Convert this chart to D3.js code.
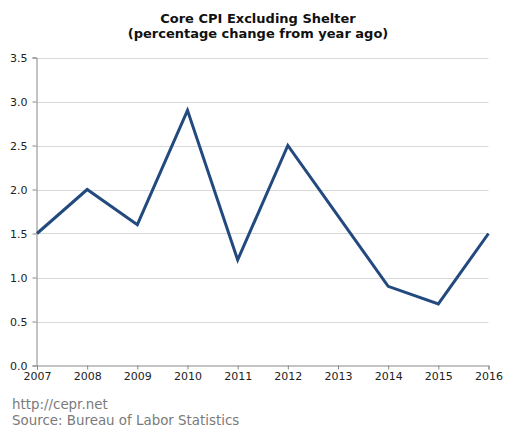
<!DOCTYPE html>
<html><head><meta charset="utf-8">
<script src="https://cdn.jsdelivr.net/npm/d3@7"></script>
<style>body{margin:0;background:#fff}svg{display:block}</style>
</head><body>
<svg id="c" width="517" height="437"></svg>
<script>
const years = [2007,2008,2009,2010,2011,2012,2013,2014,2015,2016];
const values = [1.5,2.0,1.6,2.9,1.2,2.5,1.7,0.9,0.7,1.5];
const yTicks = [0,0.5,1.0,1.5,2.0,2.5,3.0,3.5];
const titleLines = ["Core CPI Excluding Shelter","(percentage change from year ago)"];
const sourceLines = ["http://cepr.net","Source: Bureau of Labor Statistics"];

const svg = d3.select("#c");
const font = "Verdana, 'DejaVu Sans', sans-serif";
const x = d3.scaleLinear().domain([2007,2016]).range([37,488.5]);
const y = d3.scaleLinear().domain([0,3.5]).range([365.5,57.5]);

svg.selectAll("line.grid").data(yTicks.filter(d=>d>0)).join("line")
  .attr("x1",37).attr("x2",488.5).attr("y1",d=>Math.round(y(d))+0.5).attr("y2",d=>Math.round(y(d))+0.5)
  .attr("stroke","#d9d9d9").attr("stroke-width",1);

const ya = svg.append("g").attr("transform","translate(36.5,0)")
  .call(d3.axisLeft(y).tickValues(yTicks).tickFormat(d3.format(".1f")).tickSize(4).tickPadding(5));
const xa = svg.append("g").attr("transform","translate(0,365.5)")
  .call(d3.axisBottom(x).tickValues(years).tickFormat(d3.format("d")).tickSize(4).tickPadding(3));
[ya,xa].forEach(a=>{
  a.selectAll("path,line").attr("stroke","#888");
  a.selectAll("text").attr("fill","#222").style("font-family",font).style("font-size","11px");
});

svg.append("path").datum(values)
  .attr("d", d3.line().x((d,i)=>x(years[i])).y(d=>y(d)))
  .attr("fill","none").attr("stroke","#234a7e").attr("stroke-width",3).attr("stroke-linejoin","miter");

svg.selectAll("text.title").data(titleLines).join("text")
  .attr("x",258).attr("y",(d,i)=>23+i*15).attr("text-anchor","middle")
  .style("font-family",font).style("font-size","13px").style("font-weight","bold").attr("fill","#111")
  .text(d=>d);

svg.selectAll("text.src").data(sourceLines).join("text")
  .attr("x",12).attr("y",(d,i)=>409+i*16)
  .style("font-family",font).style("font-size","13.4px").attr("fill","#7a7a7a")
  .text(d=>d);
</script>
</body></html>
